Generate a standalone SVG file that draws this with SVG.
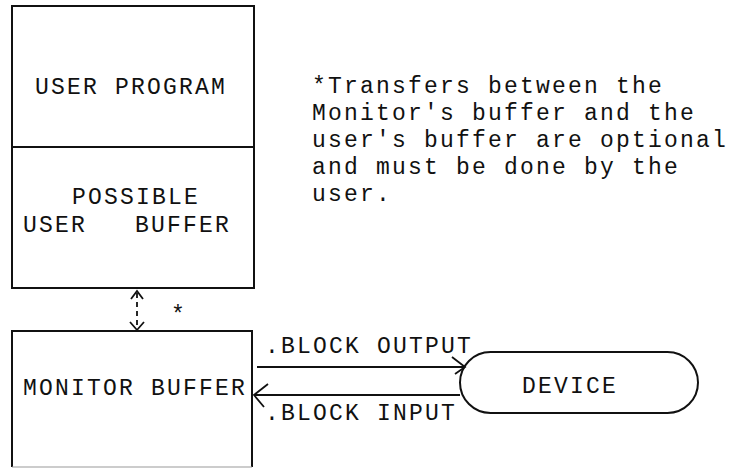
<svg xmlns="http://www.w3.org/2000/svg" width="735" height="469" viewBox="0 0 735 469">
<style>
.t{font-family:"Liberation Mono","Courier New",monospace;font-size:23px;letter-spacing:2.2px;fill:#111;}
.box{fill:none;stroke:#111;stroke-width:2;}
.ln{fill:none;stroke:#111;stroke-width:1.8;}
</style>
<rect width="735" height="469" fill="#fff"/>
<g id="user-program">
<rect class="box" x="12" y="6" width="242" height="282"/>
<line class="ln" x1="12" y1="147" x2="254" y2="147"/>
<text class="t" x="35" y="94">USER PROGRAM</text>
<text class="t" x="72" y="204">POSSIBLE</text>
<text class="t" x="23" y="232" xml:space="preserve">USER   BUFFER</text>
</g>
<g id="monitor-buffer">
<path class="box" d="M12 467 V331 H252 V467"/>
<line x1="12" y1="467" x2="252" y2="467" stroke="#999" stroke-width="1.2"/>
<text class="t" x="23" y="395">MONITOR BUFFER</text>
</g>
<g id="device">
<rect class="box" x="460" y="352" width="238" height="61" rx="30.5" ry="30.5"/>
<text class="t" x="522" y="393">DEVICE</text>
</g>
<g id="note">
<text class="t" x="312" y="93">*Transfers between the</text>
<text class="t" x="312" y="120">Monitor's buffer and the</text>
<text class="t" x="312" y="147">user's buffer are optional</text>
<text class="t" x="312" y="174">and must be done by the</text>
<text class="t" x="312" y="201">user.</text>
</g>
<g id="connectors">
<line class="ln" x1="137" y1="293" x2="137" y2="328" stroke-dasharray="5 4"/>
<path class="ln" d="M131 299 L137 291 L143 299"/>
<path class="ln" d="M130 322 L137 330 L144 322"/>
<text class="t" x="171" y="322">*</text>
<line class="ln" x1="257" y1="367" x2="464" y2="367"/>
<path class="ln" d="M452 357 L465 367 L455 374"/>
<text class="t" x="265" y="353">.BLOCK OUTPUT</text>
<line class="ln" x1="254" y1="395" x2="460" y2="395"/>
<path class="ln" d="M268 384 L254 395 L264 407"/>
<text class="t" x="265" y="420">.BLOCK INPUT</text>
</g>
</svg>
